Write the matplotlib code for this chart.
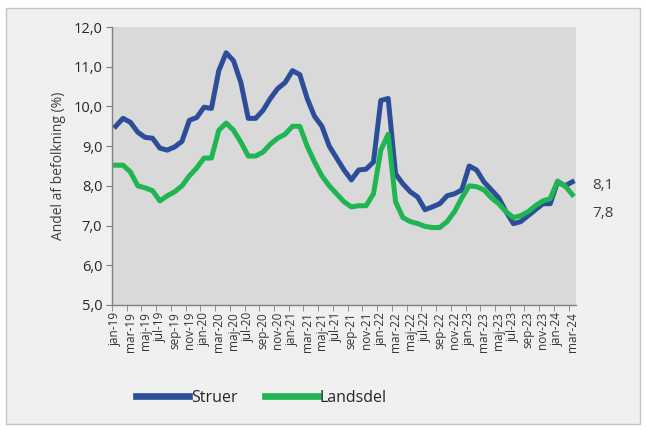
import matplotlib
matplotlib.use("Agg")
import matplotlib.pyplot as plt
from matplotlib.patches import Rectangle
import numpy as np

months_da = ["jan", "feb", "mar", "apr", "maj", "jun", "jul", "aug", "sep", "okt", "nov", "dec"]
categories = [f"{m}-{y}" for y in range(19, 25) for m in months_da][:63]

struer = [9.5, 9.7, 9.6, 9.35, 9.22, 9.2, 8.95, 8.9, 8.98, 9.12, 9.65, 9.72,
          9.98, 9.95, 10.9, 11.35, 11.15, 10.6, 9.7, 9.7, 9.9, 10.2, 10.45, 10.6,
          10.9, 10.8, 10.2, 9.75, 9.5, 9.0, 8.7, 8.4, 8.15, 8.4, 8.42, 8.6,
          10.15, 10.2, 8.3, 8.05, 7.85, 7.72, 7.4, 7.47, 7.55, 7.75, 7.8, 7.9,
          8.5, 8.4, 8.1, 7.9, 7.7, 7.35, 7.05, 7.1, 7.25, 7.4, 7.55, 7.55,
          8.1, 8.0, 8.1]
landsdel = [8.52, 8.52, 8.35, 8.0, 7.95, 7.88, 7.62, 7.75, 7.85, 8.0, 8.25, 8.45,
            8.7, 8.7, 9.4, 9.58, 9.4, 9.1, 8.75, 8.75, 8.85, 9.05, 9.2, 9.3,
            9.5, 9.5, 9.0, 8.6, 8.25, 8.0, 7.8, 7.6, 7.47, 7.5, 7.5, 7.8,
            8.9, 9.3, 7.6, 7.2, 7.1, 7.05, 6.98, 6.95, 6.95, 7.1, 7.35, 7.7,
            8.0, 7.98, 7.9, 7.7, 7.55, 7.35, 7.2, 7.25, 7.35, 7.5, 7.62, 7.68,
            8.12, 8.0, 7.78]
end_labels = ["8,1", "7,8"]
yticks = [5, 6, 7, 8, 9, 10, 11, 12]

blue = "#2c4d98"
green = "#1fb552"

fig = plt.figure(figsize=(6.46, 4.30), dpi=100, facecolor="white")
W, H = 646, 430
fig.patches.append(Rectangle((6 / W, 6 / H), 634 / W, 416 / H, transform=fig.transFigure,
                             facecolor="#f0f0f0", edgecolor="#c4c4c4", lw=1.0, zorder=-5))

ax = fig.add_axes([112 / W, 1 - 305 / H, (576 - 112) / W, (305 - 27) / H])
ax.set_zorder(2)
ax.set_facecolor("#d9d9d9")

x = np.arange(len(categories))
ax.plot(x, struer, color=blue, lw=3.6, solid_joinstyle="round", label="Struer")
ax.plot(x, landsdel, color=green, lw=3.6, solid_joinstyle="round", label="Landsdel")

ax.set_xlim(-0.5, len(categories) - 0.5)
ax.set_ylim(5, 12)
ax.set_yticks(yticks)
ax.set_yticklabels([f"{v:.1f}".replace(".", ",") for v in yticks],
                   fontsize=10.5, color="#262626", family="Open Sans")
ax.tick_params(axis="y", length=4, color="#808080", pad=3)

ax.set_xticks(np.arange(-0.5, len(categories), 2), minor=True)
ax.set_xticks(x[::2])
ax.set_xticklabels(categories[::2], rotation=90, fontsize=8.5, color="#333333", family="Open Sans")
ax.tick_params(axis="x", which="major", length=0, pad=5)
ax.tick_params(axis="x", which="minor", length=4, color="#808080")

for s in ["top", "right"]:
    ax.spines[s].set_visible(False)
for s in ["left", "bottom"]:
    ax.spines[s].set_color("#808080")
    ax.spines[s].set_linewidth(1.0)

ax.set_ylabel("Andel af befolkning (%)", fontsize=10, color="#404040", family="Open Sans", labelpad=5)

ax.text(1.035, struer[-1] - 0.1, end_labels[0], transform=ax.get_yaxis_transform(),
        fontsize=11, color="#404040", va="center", ha="left", family="Open Sans")
ax.text(1.035, landsdel[-1] - 0.47, end_labels[1], transform=ax.get_yaxis_transform(),
        fontsize=11, color="#404040", va="center", ha="left", family="Open Sans")

leg = fig.legend(loc="center left", bbox_to_anchor=(122 / W, 1 - 398 / H), ncol=2, frameon=False,
                 handlelength=3.3, handletextpad=0.1, columnspacing=1.75,
                 prop={"family": "Open Sans", "size": 11.5})
for t in leg.get_texts():
    t.set_color("#262626")
for l in leg.get_lines():
    l.set_linewidth(4.8)

fig.savefig("out.png", dpi=100, facecolor=fig.get_facecolor())
